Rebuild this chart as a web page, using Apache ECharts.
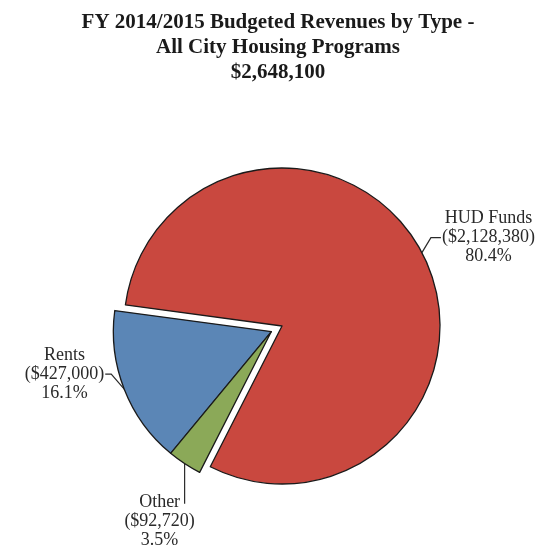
<!DOCTYPE html>
<html>
<head>
<meta charset="utf-8">
<script src="https://cdn.jsdelivr.net/npm/echarts@6/dist/echarts.min.js"></script>
<style>html,body{margin:0;padding:0;background:#fff;}#chart{width:556px;height:549px;}</style>
</head>
<body>
<div id="chart"></div>
<script>
const titleLines = ['FY 2014/2015 Budgeted Revenues by Type -', 'All City Housing Programs', '$2,648,100'];
const categories = ['HUD Funds', 'Rents', 'Other'];
const values = [2128380, 427000, 92720];
const colors = ['#C9483F', '#5B86B6', '#8BA958'];

const START = 243;        // degrees, counter-clockwise
const R = 158;
const C = [282, 326];
const EXPLODE = 12;

const total = values.reduce((a, b) => a + b, 0);
const redSpan = values[0] / total * 360;
const groupStart = START + redSpan;
const groupEnd = START + 360;
const mid = (groupStart + groupEnd) / 2 * Math.PI / 180;
const C2 = [C[0] + EXPLODE * Math.cos(mid), C[1] - EXPLODE * Math.sin(mid)];

const fmt = v => v.toLocaleString('en-US');

function makeData(visibleSet) {
  return categories.map((name, i) => {
    const vis = visibleSet.includes(i);
    return {
      name, value: values[i],
      itemStyle: vis ? { color: colors[i], borderColor: '#1a1a1a', borderWidth: 1.3 } : { color: 'rgba(0,0,0,0)', borderWidth: 0 },
      label: { show: vis },
      labelLine: { show: vis }
    };
  });
}

function layout(params) {
  const i = params.dataIndex;
  const p = params.labelLinePoints;
  if (!p) return {};
  const p0 = p[0];
  const w = params.labelRect.width;
  if (i === 0) {
    const a = [p0[0] + 9, p0[1] - 15], b = [p0[0] + 19, p0[1] - 15];
    return { x: b[0] + 1 + w / 2, y: b[1], align: 'center', verticalAlign: 'middle', labelLinePoints: [p0, a, b] };
  } else if (i === 1) {
    const a = [p0[0] - 13, p0[1] - 15], b = [p0[0] - 19, p0[1] - 15];
    return { x: b[0] - 1 - w / 2, y: b[1], align: 'center', verticalAlign: 'middle', labelLinePoints: [p0, a, b] };
  } else {
    const a = [p0[0], p0[1] + 20], b = [p0[0], p0[1] + 40];
    return { x: p0[0] - 25, y: p0[1] + 58, align: 'center', verticalAlign: 'middle', labelLinePoints: [p0, a, b] };
  }
}

const common = {
  type: 'pie',
  radius: R,
  startAngle: START,
  clockwise: false,
  percentPrecision: 1,
  silent: true,
  animation: false,
  avoidLabelOverlap: false,
  label: {
    show: true,
    position: 'outside',
    formatter: p => p.name + '\n($' + fmt(p.value) + ')\n' + p.percent + '%',
    fontFamily: 'Liberation Serif',
    fontSize: 18,
    lineHeight: 19,
    color: '#2a2a2a',
    align: 'center'
  },
  labelLine: { show: true, length: 15, length2: 10, smooth: false, lineStyle: { color: '#2a2a2a', width: 1.2 } },
  labelLayout: layout
};

const chart = echarts.init(document.getElementById('chart'), null, { renderer: 'canvas' });
chart.setOption({
  backgroundColor: '#ffffff',
  animation: false,
  title: {
    text: titleLines.join('\n'),
    left: 'center',
    top: 5,
    textStyle: { fontFamily: 'Liberation Serif', fontWeight: 'bold', fontSize: 21, lineHeight: 25, color: '#1a1a1a' }
  },
  series: [
    Object.assign({}, common, { center: C, data: makeData([0]) }),
    Object.assign({}, common, { center: C2, data: makeData([1, 2]) })
  ]
});
</script>
</body>
</html>
